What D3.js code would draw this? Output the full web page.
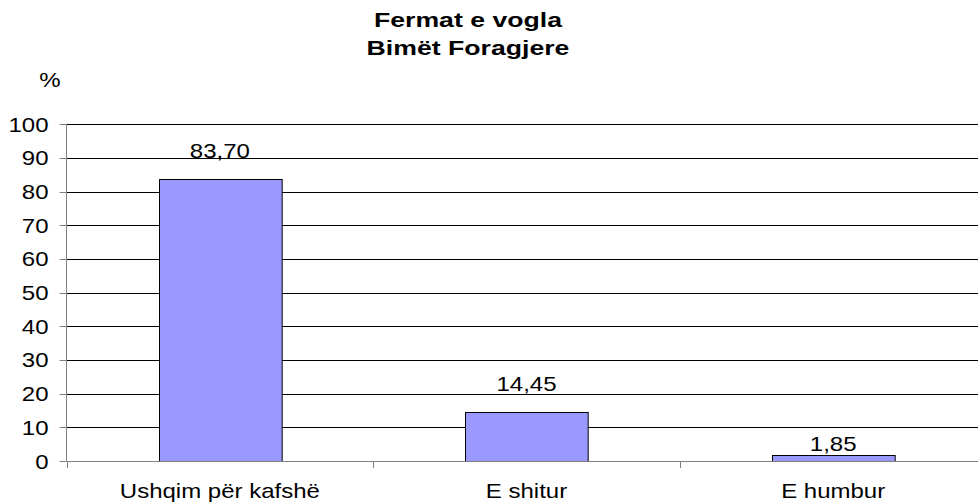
<!DOCTYPE html>
<html>
<head>
<meta charset="utf-8">
<script src="https://cdn.jsdelivr.net/npm/d3@7"></script>
<style>
  body { margin: 0; background: #fff; }
  svg { display: block; font-family: "Liberation Sans", Arial, sans-serif; }
</style>
</head>
<body>
<div id="chart"></div>
<script>
const categories = ['Ushqim për kafshë', 'E shitur', 'E humbur'];
const values = [83.70, 14.45, 1.85];
const yTicks = [0, 10, 20, 30, 40, 50, 60, 70, 80, 90, 100];
const titleLines = ['Fermat e vogla', 'Bimët Foragjere'];

const width = 978, height = 504;

const svg = d3.select('#chart')
    .append('svg')
    .attr('width', width)
    .attr('height', height);

const x = d3.scaleBand()
    .domain(categories)
    .range([66.5, 986.5])
    .paddingInner(0.6)
    .paddingOuter(0.3);

const y = d3.scaleLinear()
    .domain([0, 100])
    .range([461, 124.3]);

const fmt = v => v.toFixed(2).replace('.', ',');

// text in the picture is drawn wider than tall, so stretch it horizontally
function label(g, tx, ty, txt, size, stretch, weight, anchor) {
    g.append('text')
        .attr('transform', `translate(${tx},${ty}) scale(${stretch},1)`)
        .attr('text-anchor', anchor || 'middle')
        .attr('font-size', size)
        .attr('font-weight', weight || 'normal')
        .attr('fill', '#000')
        .text(txt);
}

// gridlines
svg.append('g')
    .selectAll('line')
    .data(yTicks.filter(d => d > 0))
    .join('line')
    .attr('x1', 66.5)
    .attr('x2', width)
    .attr('y1', d => Math.round(y(d)) + 0.5)
    .attr('y2', d => Math.round(y(d)) + 0.5)
    .attr('stroke', '#000');

// bars
svg.append('g')
    .selectAll('rect')
    .data(values)
    .join('rect')
    .attr('x', (d, i) => Math.round(x(categories[i])) + 0.5)
    .attr('y', d => Math.round(y(d)) + 0.5)
    .attr('width', x.bandwidth())
    .attr('height', d => Math.round(y(0)) - Math.round(y(d)))
    .attr('fill', '#9999ff')
    .attr('stroke', '#000');

// y axis
const yAxis = svg.append('g')
    .attr('transform', 'translate(66.5,0)');
yAxis.append('line')
    .attr('y1', y(100)).attr('y2', y(0))
    .attr('stroke', '#808080');
yAxis.selectAll('line.tick')
    .data(yTicks)
    .join('line')
    .attr('class', 'tick')
    .attr('x1', -7).attr('x2', 0)
    .attr('y1', d => Math.round(y(d)) + 0.5)
    .attr('y2', d => Math.round(y(d)) + 0.5)
    .attr('stroke', '#808080');
yTicks.forEach(t => label(yAxis, -18, y(t) + 7.5, t, 20, 1.2, 'normal', 'end'));

// x axis
const xAxis = svg.append('g');
xAxis.append('line')
    .attr('x1', 66.5).attr('x2', width)
    .attr('y1', Math.round(y(0)) + 0.5).attr('y2', Math.round(y(0)) + 0.5)
    .attr('stroke', '#808080');
xAxis.selectAll('line.tick')
    .data(categories)
    .join('line')
    .attr('class', 'tick')
    .attr('x1', d => Math.round(x(d) - x.step() * 0.3) + 0.5)
    .attr('x2', d => Math.round(x(d) - x.step() * 0.3) + 0.5)
    .attr('y1', y(0)).attr('y2', y(0) + 7)
    .attr('stroke', '#808080');
categories.forEach(c => label(xAxis, x(c) + x.bandwidth() / 2, 498, c, 20, 1.2));

// value labels (the small one sits right on its bar, as in the original)
values.forEach((v, i) => {
    const ly = v > 10 ? y(v) - 21 : y(0) - 10;
    label(svg, x(categories[i]) + x.bandwidth() / 2, ly, fmt(v), 20, 1.2);
});

// title and unit
titleLines.forEach((t, i) => label(svg, 468, 27 + i * 28, t, 20.5, 1.3, 'bold'));
label(svg, 50, 87, '%', 20, 1.2);
</script>
</body>
</html>
